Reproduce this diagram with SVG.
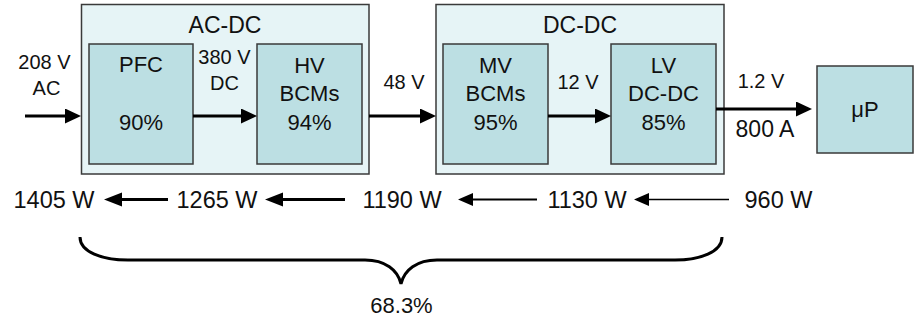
<svg xmlns="http://www.w3.org/2000/svg" width="916" height="327" viewBox="0 0 916 327">
  <style>
    text { font-family: "Liberation Sans", Arial, sans-serif; fill: #111; text-anchor: middle; }
    .outer { fill: #E6F4F6; stroke: #3a3a3a; stroke-width: 1.5; }
    .inner { fill: #BCDFE3; stroke: #3a3a3a; stroke-width: 1.5; }
    .lbl { font-size: 23px; }
    .box { font-size: 22px; }
    .v { font-size: 20px; }
    .pw { font-size: 23.5px; }
    .wire { stroke: #000; fill: none; }
  </style>
  <defs>
    <marker id="head" markerUnits="userSpaceOnUse" markerWidth="17" markerHeight="16" refX="8" refY="7.5" orient="auto">
      <path d="M0,0 L16,7.5 L0,15 z" fill="#000"/>
    </marker>
    <marker id="head-p" markerUnits="userSpaceOnUse" markerWidth="19" markerHeight="15" refX="8" refY="7" orient="auto">
      <path d="M0,0 L18,7 L0,14 z" fill="#000"/>
    </marker>
    <marker id="head-s" markerUnits="userSpaceOnUse" markerWidth="16" markerHeight="14" refX="7" refY="6.5" orient="auto">
      <path d="M0,0 L15,6.5 L0,13 z" fill="#000"/>
    </marker>
  </defs>

  <!-- AC-DC stage -->
  <g id="acdc">
    <rect class="outer" x="81.5" y="4.5" width="287.5" height="169.5"/>
    <text class="lbl" x="225" y="33">AC-DC</text>
  </g>
  <g id="pfc">
    <rect class="inner" x="89" y="44" width="104" height="120"/>
    <text class="box" x="141" y="72">PFC</text>
    <text class="box" x="141" y="130">90%</text>
  </g>
  <g id="hv-bcms">
    <rect class="inner" x="257" y="44" width="105" height="120"/>
    <text class="box" x="309.5" y="73">HV</text>
    <text class="box" x="309.5" y="101">BCMs</text>
    <text class="box" x="309.5" y="130">94%</text>
  </g>

  <!-- DC-DC stage -->
  <g id="dcdc">
    <rect class="outer" x="436" y="4.5" width="288" height="169.5"/>
    <text class="lbl" x="580" y="33">DC-DC</text>
  </g>
  <g id="mv-bcms">
    <rect class="inner" x="443" y="44" width="105" height="120"/>
    <text class="box" x="495.5" y="73">MV</text>
    <text class="box" x="495.5" y="101">BCMs</text>
    <text class="box" x="495.5" y="130">95%</text>
  </g>
  <g id="lv-dcdc">
    <rect class="inner" x="611" y="44" width="105" height="120"/>
    <text class="box" x="663.5" y="73">LV</text>
    <text class="box" x="663.5" y="101">DC-DC</text>
    <text class="box" x="663.5" y="130">85%</text>
  </g>

  <!-- load -->
  <g id="up">
    <rect class="inner" x="817" y="66" width="96" height="87"/>
    <text class="box" x="865" y="117">μP</text>
  </g>

  <!-- power path connectors -->
  <g id="connectors">
    <line class="wire" x1="25" y1="116" x2="73" y2="116" stroke-width="3" marker-end="url(#head)"/>
    <line class="wire" x1="193" y1="116" x2="249" y2="116" stroke-width="3" marker-end="url(#head)"/>
    <line class="wire" x1="369" y1="116" x2="428" y2="116" stroke-width="3" marker-end="url(#head)"/>
    <line class="wire" x1="548" y1="116" x2="603" y2="116" stroke-width="3" marker-end="url(#head)"/>
    <line class="wire" x1="716" y1="109" x2="804" y2="109" stroke-width="3" marker-end="url(#head)"/>

    <!-- power flow, load back to source -->
    <line class="wire" x1="168" y1="199.5" x2="114" y2="199.5" stroke-width="3" marker-end="url(#head-p)"/>
    <line class="wire" x1="345" y1="199.5" x2="275" y2="199.5" stroke-width="3" marker-end="url(#head-p)"/>
    <line class="wire" x1="537" y1="199.5" x2="466" y2="199.5" stroke-width="2" marker-end="url(#head-s)"/>
    <line class="wire" x1="729" y1="199.5" x2="642" y2="199.5" stroke-width="1.5" marker-end="url(#head-s)"/>
  </g>

  <!-- rail labels -->
  <g id="rail-labels">
    <text class="v" x="44.5" y="69">208 V</text>
    <text class="v" x="46.5" y="95">AC</text>
    <text class="v" x="224.5" y="64">380 V</text>
    <text class="v" x="224.5" y="90">DC</text>
    <text class="v" x="404" y="89">48 V</text>
    <text class="v" x="578" y="89">12 V</text>
    <text class="v" x="761" y="88">1.2 V</text>
    <text class="lbl" x="765" y="137">800 A</text>
  </g>

  <!-- power figures -->
  <g id="power">
    <text class="pw" x="54" y="208">1405 W</text>
    <text class="pw" x="217" y="208">1265 W</text>
    <text class="pw" x="402" y="208">1190 W</text>
    <text class="pw" x="587" y="208">1130 W</text>
    <text class="pw" x="778.5" y="208">960 W</text>
  </g>

  <!-- overall efficiency brace -->
  <g id="brace">
    <path class="wire" stroke-width="3" d="M80,237 C80,252 102,260 128,260 L365,260 C385,260 398,270 401,284 C404,270 417,260 437,260 L675,260 C700,260 722,252 722,237"/>
    <text class="box" x="401.5" y="313">68.3%</text>
  </g>
</svg>
